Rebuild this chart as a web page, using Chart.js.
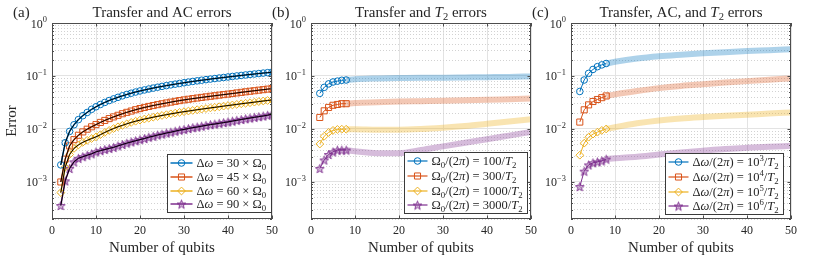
<!DOCTYPE html>
<html lang="en">
<head>
<meta charset="UTF-8">
<title>Transfer error panels</title>
<script src="https://cdn.jsdelivr.net/npm/chart.js"></script>
<style>
  html, body { margin: 0; padding: 0; background: #fff; }
  #wrap { position: relative; width: 830px; height: 260px; overflow: hidden; }
  #wrap canvas { position: absolute; top: 0; }
</style>
</head>
<body>
<div id="wrap">
  <canvas id="chartA" width="280" height="260" style="left:0px"></canvas>
  <canvas id="chartB" width="280" height="260" style="left:259px"></canvas>
  <canvas id="chartC" width="280" height="260" style="left:519px"></canvas>
</div>
<script>
// ---- data ----
const qubitsA = [2, 3, 4, 5, 6, 7, 8, 9, 10, 11, 12, 13, 14, 15, 16, 17, 18, 19, 20, 21, 22, 23, 24, 25,
  26, 27, 28, 29, 30, 31, 32, 33, 34, 35, 36, 37, 38, 39, 40, 41, 42, 43, 44, 45, 46, 47, 48, 49, 50];
const errA30 = [0.0021, 0.0055, 0.0090, 0.0120, 0.0150, 0.0178, 0.0205, 0.0235, 0.0262, 0.0290, 0.0317, 0.0344,
  0.0370, 0.0396, 0.0422, 0.0448, 0.0473, 0.0498, 0.0522, 0.0545, 0.0568, 0.0591, 0.0614, 0.0636, 0.0658, 0.0680,
  0.0702, 0.0724, 0.0745, 0.0767, 0.0789, 0.0810, 0.0832, 0.0853, 0.0874, 0.0895, 0.0916, 0.0937, 0.0958, 0.0980,
  0.1002, 0.1024, 0.1046, 0.1068, 0.1090, 0.1112, 0.1134, 0.1156, 0.1180];
const errA45 = [0.0010, 0.0027, 0.0048, 0.0063, 0.0076, 0.0088, 0.0099, 0.0110, 0.0121, 0.0133, 0.0145, 0.0157,
  0.0169, 0.0181, 0.0194, 0.0206, 0.0218, 0.0231, 0.0243, 0.0255, 0.0266, 0.0277, 0.0288, 0.0299, 0.0310, 0.0321,
  0.0332, 0.0343, 0.0354, 0.0364, 0.0374, 0.0384, 0.0394, 0.0404, 0.0414, 0.0424, 0.0435, 0.0445, 0.0455, 0.0467,
  0.0479, 0.0491, 0.0503, 0.0515, 0.0527, 0.0540, 0.0552, 0.0565, 0.0578];
const errA60 = [0.00063, 0.0019, 0.0033, 0.0043, 0.0050, 0.0056, 0.0061, 0.0066, 0.0071, 0.0078, 0.0086, 0.0094,
  0.0102, 0.0110, 0.0117, 0.0125, 0.0133, 0.0140, 0.0147, 0.0154, 0.0160, 0.0167, 0.0173, 0.0180, 0.0186, 0.0193,
  0.0199, 0.0206, 0.0212, 0.0218, 0.0224, 0.0231, 0.0237, 0.0243, 0.0250, 0.0256, 0.0263, 0.0270, 0.0277, 0.0284,
  0.0291, 0.0299, 0.0306, 0.0313, 0.0321, 0.0329, 0.0337, 0.0345, 0.0353];
const errA90 = [0.00036, 0.00105, 0.0018, 0.0024, 0.0028, 0.0030, 0.0032, 0.0034, 0.0037, 0.0039, 0.0041, 0.0043,
  0.0045, 0.0048, 0.0051, 0.0054, 0.0057, 0.0060, 0.0063, 0.0066, 0.0070, 0.0073, 0.0077, 0.0080, 0.0084, 0.0087,
  0.0091, 0.0095, 0.0098, 0.0102, 0.0106, 0.0109, 0.0113, 0.0117, 0.0121, 0.0124, 0.0128, 0.0132, 0.0136, 0.0141,
  0.0146, 0.0151, 0.0156, 0.0161, 0.0166, 0.0171, 0.0176, 0.0182, 0.0190];

// panels (b) and (c): simulated points for small chains, then the wide trend band
const qubitsMark = [2, 3, 4, 5, 6, 7, 8];
const qubitsBand = [8, 10, 15, 20, 25, 30, 35, 40, 45, 50];

const errB100 = [0.047, 0.061, 0.071, 0.077, 0.080, 0.083, 0.084];
const errB300 = [0.0165, 0.022, 0.0255, 0.028, 0.029, 0.030, 0.030];
const errB1000 = [0.0052, 0.0073, 0.0086, 0.0094, 0.0098, 0.0099, 0.0099];
const errB3000 = [0.0018, 0.0026, 0.0033, 0.0037, 0.0040, 0.0040, 0.0040];
const bandB100 = [0.084, 0.087, 0.090, 0.092, 0.093, 0.093, 0.094, 0.095, 0.096, 0.098];
const bandB300 = [0.030, 0.031, 0.032, 0.033, 0.0335, 0.034, 0.035, 0.0355, 0.0365, 0.0375];
const bandB1000 = [0.0099, 0.0099, 0.0097, 0.0097, 0.0100, 0.0106, 0.0114, 0.0125, 0.0138, 0.0153];
const bandB3000 = [0.0040, 0.0038, 0.0035, 0.0035, 0.0040, 0.0047, 0.0055, 0.0064, 0.0075, 0.0088];

const errC3 = [0.051, 0.084, 0.112, 0.133, 0.150, 0.162, 0.172];
const errC4 = [0.0135, 0.023, 0.0285, 0.033, 0.036, 0.039, 0.042];
const errC5 = [0.0032, 0.0054, 0.0070, 0.0080, 0.0087, 0.0094, 0.0100];
const errC6 = [0.00082, 0.0016, 0.0021, 0.0023, 0.0024, 0.0025, 0.0027];
const bandC3 = [0.172, 0.185, 0.213, 0.235, 0.252, 0.268, 0.282, 0.295, 0.307, 0.320];
const bandC4 = [0.042, 0.045, 0.052, 0.059, 0.065, 0.070, 0.075, 0.080, 0.085, 0.090];
const bandC5 = [0.0100, 0.0108, 0.0128, 0.0145, 0.0158, 0.0168, 0.0177, 0.0186, 0.0195, 0.0205];
const bandC6 = [0.0027, 0.0028, 0.0030, 0.0033, 0.0036, 0.0039, 0.0042, 0.0044, 0.0046, 0.0048];

const xTicks = [0, 10, 20, 30, 40, 50];
const yDecades = [1e-4, 1e-3, 1e-2, 1e-1, 1];

// labels (* toggles italic, _{..} subscript, ^{..} superscript)
const labelsA = ['Δ*ω* = 30 × Ω_{0}', 'Δ*ω* = 45 × Ω_{0}', 'Δ*ω* = 60 × Ω_{0}', 'Δ*ω* = 90 × Ω_{0}'];
const labelsB = ['Ω_{0}/(2*π*) = 100/*T*_{2}', 'Ω_{0}/(2*π*) = 300/*T*_{2}',
  'Ω_{0}/(2*π*) = 1000/*T*_{2}', 'Ω_{0}/(2*π*) = 3000/*T*_{2}'];
const labelsC = ['Δ*ω*/(2*π*) = 10^{3}/*T*_{2}', 'Δ*ω*/(2*π*) = 10^{4}/*T*_{2}',
  'Δ*ω*/(2*π*) = 10^{5}/*T*_{2}', 'Δ*ω*/(2*π*) = 10^{6}/*T*_{2}'];

// ---- styling ----
const FAM = '"Liberation Serif", "DejaVu Serif", serif';
const INK = '#262626';
const FRAME = '#4d4d4d';
const COLORS = ['#0072BD', '#D95319', '#EDB120', '#7E2F8E'];
const BANDS = ['rgba(0,114,189,0.32)', 'rgba(217,83,25,0.32)', 'rgba(237,177,32,0.35)', 'rgba(126,47,142,0.32)'];

function starImage(color, fill) {
  const size = 11, r = 4.6;
  const c = document.createElement('canvas');
  c.width = size; c.height = size;
  const g = c.getContext('2d');
  g.beginPath();
  for (let k = 0; k < 10; k++) {
    const rad = k % 2 ? r * 0.42 : r;
    const ang = -Math.PI / 2 + k * Math.PI / 5;
    const px = size / 2 + rad * Math.cos(ang), py = size / 2 + 0.6 + rad * Math.sin(ang);
    if (k) g.lineTo(px, py); else g.moveTo(px, py);
  }
  g.closePath();
  g.fillStyle = fill; g.fill();
  g.strokeStyle = color; g.lineWidth = 0.9; g.stroke();
  return c;
}
const STAR = starImage(COLORS[3], 'rgba(126,47,142,0.35)');
const MARKERS = [
  { style: 'circle', r: 3.3 },
  { style: 'rect', r: 4.3 },
  { style: 'rectRot', r: 3.9 },
  { style: STAR, r: 5 }
];

// ---- small rich text helper for the LaTeX-ish labels ----
function parseRich(s) {
  const out = [];
  let buf = '', it = false, i = 0;
  const push = () => { if (buf) out.push({ t: buf, it, pos: 0 }); buf = ''; };
  while (i < s.length) {
    const ch = s[i];
    if (ch === '*') { push(); it = !it; i++; }
    else if ((ch === '_' || ch === '^') && s[i + 1] === '{') {
      push();
      const end = s.indexOf('}', i);
      out.push({ t: s.slice(i + 2, end), it: false, pos: ch === '_' ? 1 : -1 });
      i = end + 1;
    } else { buf += ch; i++; }
  }
  push();
  return out;
}
function segFont(seg, size) {
  return (seg.it ? 'italic ' : '') + (seg.pos ? size * 0.7 : size) + 'px ' + FAM;
}
function richWidth(ctx, s, size) {
  let w = 0;
  for (const g of parseRich(s)) { ctx.font = segFont(g, size); w += ctx.measureText(g.t).width; }
  return w;
}
function drawRich(ctx, s, x, y, size, align, color) {
  const w = richWidth(ctx, s, size);
  let cx = align === 'center' ? x - w / 2 : align === 'right' ? x - w : x;
  ctx.save();
  ctx.fillStyle = color;
  ctx.textAlign = 'left';
  ctx.textBaseline = 'alphabetic';
  for (const g of parseRich(s)) {
    ctx.font = segFont(g, size);
    const dy = g.pos === 1 ? size * 0.22 : g.pos === -1 ? -size * 0.42 : 0;
    ctx.fillText(g.t, cx, y + dy);
    cx += ctx.measureText(g.t).width;
  }
  ctx.restore();
}

function isDecade(v) {
  const l = Math.log10(v);
  return Math.abs(l - Math.round(l)) < 1e-9;
}
function drawMarker(ctx, m, x, y, color) {
  if (typeof m.style !== 'string') {
    ctx.drawImage(m.style, x - m.style.width / 2, y - m.style.height / 2);
    return;
  }
  ctx.beginPath();
  if (m.style === 'circle') ctx.arc(x, y, m.r, 0, Math.PI * 2);
  else if (m.style === 'rect') { const h = m.r * Math.SQRT1_2; ctx.rect(x - h, y - h, 2 * h, 2 * h); }
  else { ctx.moveTo(x, y - m.r); ctx.lineTo(x + m.r, y); ctx.lineTo(x, y + m.r); ctx.lineTo(x - m.r, y); ctx.closePath(); }
  ctx.strokeStyle = color; ctx.lineWidth = 1;
  ctx.stroke();
}

// ---- plugins ----
function panelPlugin(letter, title, legend) {
  return {
    id: 'panelDecor',
    afterDatasetsDraw(chart) {
      const { ctx, chartArea: a, scales } = chart;
      ctx.save();
      ctx.strokeStyle = FRAME;
      ctx.lineWidth = 1;
      // inward ticks
      ctx.beginPath();
      for (const t of scales.y.ticks) {
        const py = Math.round(scales.y.getPixelForValue(t.value)) + 0.5;
        const len = isDecade(t.value) ? 3.5 : 2;
        ctx.moveTo(a.left, py); ctx.lineTo(a.left + len, py);
        ctx.moveTo(a.right, py); ctx.lineTo(a.right - len, py);
      }
      for (const v of xTicks) {
        const px = Math.round(scales.x.getPixelForValue(v)) + 0.5;
        ctx.moveTo(px, a.bottom); ctx.lineTo(px, a.bottom - 3.5);
        ctx.moveTo(px, a.top); ctx.lineTo(px, a.top + 3.5);
      }
      ctx.stroke();
      ctx.strokeRect(Math.round(a.left) + 0.5, Math.round(a.top) + 0.5,
        Math.round(a.right - a.left) - 1, Math.round(a.bottom - a.top) - 1);
      ctx.restore();
    },
    afterDraw(chart) {
      const { ctx, chartArea: a, scales } = chart;
      // y tick labels as 10^k
      for (const d of yDecades) {
        if (d < scales.y.min) continue;
        const e = Math.round(Math.log10(d));
        const lab = '10^{' + (e < 0 ? '−' + (-e) : e) + '}';
        drawRich(ctx, lab, a.left - 5, scales.y.getPixelForValue(d) + 4.5, 12, 'right', INK);
      }
      drawRich(ctx, title, (a.left + a.right) / 2, 17, 15, 'center', INK);
      drawRich(ctx, letter, a.left - 39, 17, 15, 'left', INK);

      // legend box
      const size = 12.5;
      const textW = Math.max(...legend.labels.map(s => richWidth(ctx, s, size)));
      const w = Math.round(3 + legend.sample + 4 + textW + 5);
      const h = Math.round(legend.rowH * legend.labels.length + 3);
      const x0 = Math.round(a.right - legend.right - w) + 0.5;
      const y0 = Math.round(a.bottom - legend.bottom - h) + 0.5;
      ctx.save();
      ctx.fillStyle = '#fff';
      ctx.fillRect(x0, y0, w, h);
      ctx.strokeStyle = '#3a3a3a';
      ctx.lineWidth = 1;
      ctx.strokeRect(x0, y0, w, h);
      legend.labels.forEach((s, k) => {
        const cy = Math.round(y0 + 1.5 + legend.rowH * (k + 0.5));
        ctx.strokeStyle = COLORS[k];
        ctx.lineWidth = legend.lineW;
        ctx.beginPath();
        ctx.moveTo(x0 + 3, cy); ctx.lineTo(x0 + 3 + legend.sample, cy);
        ctx.stroke();
        drawMarker(ctx, MARKERS[k], x0 + 3 + legend.sample / 2, cy, COLORS[k]);
        drawRich(ctx, s, x0 + 3 + legend.sample + 4, cy + 4.2, size, 'left', INK);
      });
      ctx.restore();
    }
  };
}

function pts(xs, ys) { return xs.map((x, i) => ({ x, y: ys[i] })); }

function baseOptions(showYTitle) {
  return {
    responsive: false,
    animation: false,
    devicePixelRatio: 1,
    layout: { padding: { left: 0, right: 8, top: 23, bottom: 0 } },
    plugins: { legend: { display: false }, tooltip: { enabled: false } },
    elements: { line: { tension: 0 } },
    scales: {
      x: {
        type: 'linear', min: 0, max: 50,
        afterBuildTicks: s => { s.ticks = xTicks.map(v => ({ value: v })); },
        afterFit: s => { s.height = 41; s.paddingLeft = 0; s.paddingRight = 0; },
        ticks: { font: { family: FAM, size: 12 }, color: INK, padding: 5, maxRotation: 0, autoSkip: false },
        grid: { color: '#e3e3e3', drawTicks: false },
        border: { display: false },
        title: { display: true, text: 'Number of qubits', color: INK,
          font: { family: FAM, size: 15 }, padding: { top: 0, bottom: 3 } }
      },
      y: {
        type: 'logarithmic', min: 2e-4, max: 1,
        afterBuildTicks: s => {
          const t = [];
          for (const d of yDecades) {
            for (let m = 1; m <= 9; m++) {
              const v = m * d;
              if (v >= s.min * 0.999 && v <= s.max * 1.001) t.push({ value: v, major: m === 1 });
            }
          }
          s.ticks = t;
        },
        afterFit: s => { s.width = 52; s.paddingTop = 0; s.paddingBottom = 0; },
        ticks: { display: false, autoSkip: false },
        grid: {
          drawTicks: false,
          color: c => (c.tick && isDecade(c.tick.value)) ? '#e3e3e3' : '#d2d2d2'
        },
        border: {
          display: false,
          dash: c => (c.tick && isDecade(c.tick.value)) ? [] : [1, 2]
        },
        title: { display: showYTitle, text: 'Error', color: INK,
          font: { family: FAM, size: 15 }, padding: { top: 3, bottom: 0 } }
      }
    }
  };
}

function markerSet(xs, ys, k, lineW) {
  return {
    data: pts(xs, ys),
    borderColor: COLORS[k],
    borderWidth: lineW,
    pointStyle: MARKERS[k].style,
    pointRadius: MARKERS[k].r,
    pointBorderColor: COLORS[k],
    pointBackgroundColor: 'rgba(0,0,0,0)',
    pointBorderWidth: 1,
    order: 2
  };
}
function bandSet(xs, ys, k) {
  return {
    data: pts(xs, ys),
    borderColor: BANDS[k],
    borderWidth: 6,
    pointRadius: 0,
    cubicInterpolationMode: 'monotone',
    order: 5
  };
}
function fitSet(xs, ys) {
  return { data: pts(xs, ys), borderColor: '#000', borderWidth: 1, pointRadius: 0, order: 1 };
}

// (a) Transfer and AC errors
const seriesA = [errA30, errA45, errA60, errA90];
new Chart(document.getElementById('chartA'), {
  type: 'line',
  data: {
    datasets: [
      ...seriesA.map((ys, k) => markerSet(qubitsA, ys, k, 1.5)),
      ...seriesA.map(ys => fitSet(qubitsA, ys))
    ]
  },
  options: baseOptions(true),
  plugins: [panelPlugin('(a)', 'Transfer and AC errors',
    { labels: labelsA, right: 1, bottom: 7, rowH: 13.8, sample: 22, lineW: 1.5 })]
});

// (b) Transfer and T2 errors
const markB = [errB100, errB300, errB1000, errB3000];
const bandB = [bandB100, bandB300, bandB1000, bandB3000];
new Chart(document.getElementById('chartB'), {
  type: 'line',
  data: {
    datasets: [
      ...markB.map((ys, k) => markerSet(qubitsMark, ys, k, 1)),
      ...bandB.map((ys, k) => bandSet(qubitsBand, ys, k))
    ]
  },
  options: baseOptions(false),
  plugins: [panelPlugin('(b)', 'Transfer and *T*_{2} errors',
    { labels: labelsB, right: 4, bottom: 6, rowH: 14.6, sample: 20, lineW: 1.2 })]
});

// (c) Transfer, AC, and T2 errors
const markC = [errC3, errC4, errC5, errC6];
const bandC = [bandC3, bandC4, bandC5, bandC6];
new Chart(document.getElementById('chartC'), {
  type: 'line',
  data: {
    datasets: [
      ...markC.map((ys, k) => markerSet(qubitsMark, ys, k, 1)),
      ...bandC.map((ys, k) => bandSet(qubitsBand, ys, k))
    ]
  },
  options: baseOptions(false),
  plugins: [panelPlugin('(c)', 'Transfer, AC, and *T*_{2} errors',
    { labels: labelsC, right: 8, bottom: 5, rowH: 14.6, sample: 20, lineW: 1.2 })]
});
</script>
</body>
</html>
